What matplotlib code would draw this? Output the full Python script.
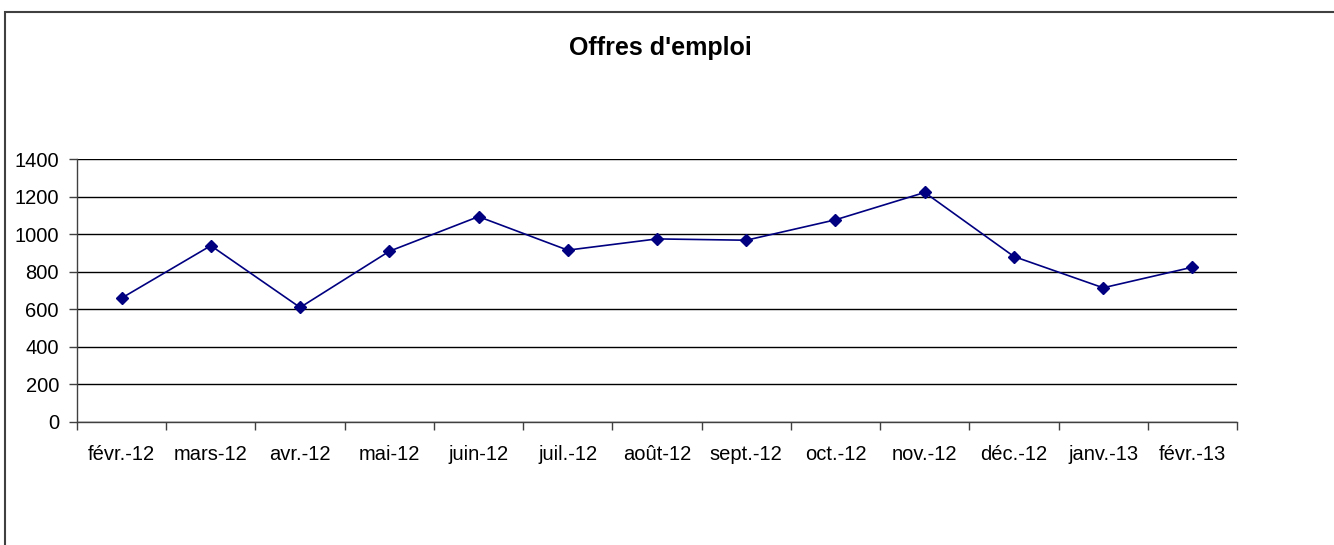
import matplotlib
matplotlib.use("Agg")
import matplotlib.pyplot as plt
from matplotlib.patches import Rectangle

categories = ["févr.-12", "mars-12", "avr.-12", "mai-12", "juin-12", "juil.-12",
              "août-12", "sept.-12", "oct.-12", "nov.-12", "déc.-12", "janv.-13", "févr.-13"]
values = [660, 940, 610, 910, 1095, 916, 976, 969, 1078, 1224, 882, 715, 825]
yticks = [0, 200, 400, 600, 800, 1000, 1200, 1400]
title = "Offres d'emploi"

plt.rcParams['font.family'] = ['Liberation Sans', 'DejaVu Sans']

W, H = 1334, 545
fig = plt.figure(figsize=(W / 100, H / 100), dpi=100)
fig.patch.set_facecolor("white")

# outer chart frame
fig.patches.append(Rectangle((4.5 / W, -0.1), 2.0, 1 - 12.5 / H + 0.1,
                             transform=fig.transFigure, fill=False,
                             edgecolor="#404040", linewidth=1.5))

left, right, top, bottom = 77, 1237, 159.5, 421.7
ax = fig.add_axes([left / W, 1 - bottom / H, (right - left) / W, (bottom - top) / H])

x = list(range(len(categories)))
ax.plot(x, values, color="#000080", linewidth=1.2, marker="D", markersize=6.5,
        markerfacecolor="#000080", markeredgecolor="#000080", zorder=3)

ax.set_xlim(-0.5, len(categories) - 0.5)
ax.set_ylim(0, 1400)
ax.set_yticks(yticks)
ax.set_yticklabels([str(v) for v in yticks])
ax.yaxis.grid(True, color="black", linewidth=1.0)
ax.set_axisbelow(True)

ax.set_xticks(x)
ax.set_xticklabels(categories)
ax.set_xticks([i - 0.5 for i in range(len(categories) + 1)], minor=True)
ax.tick_params(axis="x", which="major", length=0, pad=17, labelsize=14.5)
ax.tick_params(axis="x", which="minor", length=6, width=1, color="#404040", direction="out")
ax.tick_params(axis="y", length=6, width=1, color="#404040", pad=7, labelsize=14.5)

for s in ["top", "right"]:
    ax.spines[s].set_visible(False)
for s in ["left", "bottom"]:
    ax.spines[s].set_color("#404040")
    ax.spines[s].set_linewidth(1.0)

fig.text(660 / W, 1 - 48 / H, title, ha="center", va="center",
         fontsize=18, fontweight="bold")

fig.savefig("out.png", dpi=100, facecolor="white")
